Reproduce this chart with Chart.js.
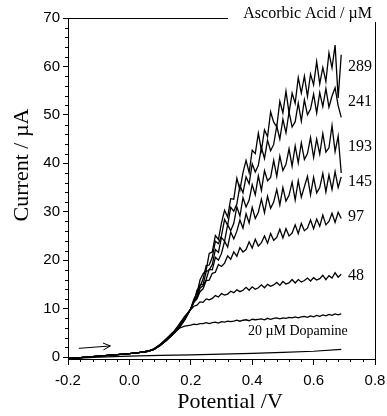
<!DOCTYPE html>
<html>
<head>
<meta charset="utf-8">
<script src="https://cdn.jsdelivr.net/npm/chart.js@4/dist/chart.umd.min.js"></script>
<style>
html, body { margin: 0; padding: 0; background: #fff; }
</style>
</head>
<body>
<canvas id="cvChart" width="387" height="416"></canvas>
<script>
/* potential grid (V) shared by the ascorbic acid / dopamine scans */
const potential = [-0.2, -0.16, -0.12, -0.08, -0.04, 0, 0.03, 0.06, 0.08, 0.1, 0.12, 0.14, 0.16, 0.18,
  0.20, 0.21, 0.22, 0.23, 0.24, 0.25, 0.26, 0.27, 0.28, 0.29,
  0.30, 0.31, 0.32, 0.33, 0.34, 0.35, 0.36, 0.37, 0.38, 0.39,
  0.40, 0.41, 0.42, 0.43, 0.44, 0.45, 0.46, 0.47, 0.48, 0.49,
  0.50, 0.51, 0.52, 0.53, 0.54, 0.55, 0.56, 0.57, 0.58, 0.59,
  0.60, 0.61, 0.62, 0.63, 0.64, 0.65, 0.66, 0.67, 0.68, 0.69]

/* current (uA) per ascorbic acid concentration */
const aa289 = [-0.3, -0.1, 0.1, 0.3, 0.5, 0.7, 0.9, 1.2, 1.6, 2.4, 3.4, 4.6, 5.8, 7.6,
  10.0, 12.0, 13.1, 15.9, 17.2, 17.9, 21.4, 21.7, 25.1, 24.3,
  27.7, 30.3, 28.9, 32.7, 32.6, 36.9, 34.5, 38.1, 40.6, 38.1,
  42.7, 42.0, 46.2, 42.7, 46.9, 45.5, 50.6, 48.5, 47.5, 52.8,
  50.4, 54.9, 50.4, 54.5, 52.4, 57.7, 54.5, 58.0, 53.8, 58.4,
  56.2, 61.0, 56.4, 59.8, 56.9, 62.8, 59.7, 64.4, 53.5, 62.4]
const aa241 = [-0.3, -0.1, 0.1, 0.3, 0.5, 0.7, 0.9, 1.2, 1.6, 2.4, 3.4, 4.6, 6.0, 7.8,
  10.0, 11.3, 13.8, 14.6, 16.1, 18.9, 19.0, 20.6, 23.9, 23.4,
  25.1, 28.4, 27.2, 30.9, 30.1, 31.6, 35.4, 33.9, 37.2, 35.8,
  39.9, 38.2, 39.6, 43.3, 41.0, 44.8, 42.6, 43.9, 47.7, 45.0,
  49.1, 46.3, 50.6, 47.5, 48.6, 52.4, 48.7, 53.1, 50.0, 51.2,
  54.3, 50.4, 54.6, 51.7, 55.4, 51.6, 53.9, 55.6, 51.9, 49.5]
const aa193 = [-0.3, -0.1, 0.1, 0.3, 0.5, 0.7, 0.9, 1.2, 1.6, 2.4, 3.4, 4.6, 6.0, 7.9,
  10.0, 11.7, 12.5, 14.9, 15.0, 17.6, 18.0, 19.1, 22.2, 21.6,
  24.7, 23.9, 27.3, 26.1, 27.6, 31.0, 29.1, 32.9, 31.0, 32.4,
  35.6, 33.5, 37.4, 34.4, 38.5, 36.4, 37.1, 40.6, 37.3, 41.5,
  38.5, 39.8, 43.0, 39.4, 43.6, 40.1, 44.2, 40.8, 42.0, 45.3,
  41.2, 45.0, 41.9, 46.1, 42.3, 43.2, 47.8, 42.4, 45.6, 38.0]
const aa145 = [-0.3, -0.1, 0.1, 0.3, 0.5, 0.7, 0.9, 1.2, 1.6, 2.4, 3.4, 4.6, 6.0, 7.8,
  10.0, 11.5, 12.2, 14.2, 14.7, 16.0, 18.1, 18.0, 20.6, 20.0,
  21.4, 23.9, 22.7, 25.8, 24.4, 26.0, 28.3, 26.6, 29.6, 27.7,
  30.9, 28.6, 29.9, 32.6, 29.8, 33.2, 30.7, 32.0, 34.6, 31.4,
  35.0, 32.2, 33.4, 36.1, 32.4, 36.4, 33.0, 35.2, 37.3, 33.5,
  37.1, 33.9, 35.0, 37.9, 34.1, 37.6, 34.6, 38.3, 35.0, 37.2]
const aa97 = [-0.3, -0.1, 0.1, 0.3, 0.5, 0.7, 0.9, 1.2, 1.6, 2.5, 3.5, 4.8, 6.3, 8.2,
  10.0, 11.3, 12.0, 13.5, 14.1, 15.8, 15.9, 17.3, 17.5, 19.1,
  18.7, 19.4, 20.9, 20.2, 21.7, 20.8, 22.6, 21.7, 22.2, 23.8,
  22.5, 24.3, 22.9, 23.6, 25.0, 23.5, 25.5, 24.1, 24.7, 26.4,
  24.6, 26.5, 25.0, 25.6, 27.3, 25.5, 27.6, 26.1, 26.6, 28.3,
  26.5, 28.5, 27.0, 29.3, 27.3, 28.0, 29.7, 27.8, 29.9, 28.6]
const aa48 = [-0.3, -0.1, 0.1, 0.3, 0.5, 0.7, 0.9, 1.2, 1.7, 2.6, 3.6, 4.9, 6.6, 8.4,
  9.8, 10.5, 10.7, 11.4, 11.3, 12.0, 11.8, 12.1, 12.7, 12.4,
  13.1, 12.8, 13.0, 13.6, 13.3, 13.9, 13.5, 13.8, 14.4, 13.8,
  14.5, 14.0, 14.3, 14.9, 14.3, 15.0, 14.6, 14.9, 15.4, 14.8,
  15.6, 15.1, 15.3, 16.0, 15.3, 16.0, 15.5, 15.8, 16.3, 15.7,
  16.4, 15.9, 16.2, 16.9, 16.0, 16.8, 16.3, 17.4, 16.5, 17.1]
const dopamine = [-0.3, -0.1, 0.1, 0.3, 0.5, 0.7, 0.9, 1.2, 1.7, 2.6, 3.8, 5.0, 5.9, 6.4,
  6.6, 6.8, 6.7, 6.9, 6.9, 7.1, 6.9, 7.1, 7.2, 7.0,
  7.3, 7.2, 7.4, 7.3, 7.4, 7.6, 7.4, 7.6, 7.7, 7.5,
  7.8, 7.7, 7.8, 7.9, 7.7, 8.0, 7.8, 8.0, 8.1, 7.9,
  8.1, 8.0, 8.2, 8.1, 8.3, 8.1, 8.3, 8.4, 8.2, 8.5,
  8.3, 8.6, 8.4, 8.7, 8.5, 8.8, 8.6, 8.9, 8.7, 8.9]

/* blank scan */
const blankPotential = [-0.2, -0.15, -0.1, -0.05, 0, 0.1, 0.2, 0.3, 0.4, 0.5, 0.6, 0.69]
const blankCurrent = [-0.35, -0.15, 0, 0.1, 0.2, 0.35, 0.45, 0.6, 0.75, 0.95, 1.2, 1.6]

const concLabels = ['289', '241', '193', '145', '97', '48']
const xTicks = [-0.2, 0.0, 0.2, 0.4, 0.6, 0.8]
const yTicks = [0, 10, 20, 30, 40, 50, 60, 70]
const arrowFrom = [-0.165, 1.8]
const arrowTo = [-0.062, 2.3]

const serif = 'Liberation Serif, Times New Roman, serif'
const sans = 'Liberation Sans, Arial, sans-serif'

const curves = [aa289, aa241, aa193, aa145, aa97, aa48, dopamine]

const toPoints = (xs, ys) => xs.map((x, i) => ({ x: x, y: ys[i] }))

const datasets = curves.map(c => ({
    data: toPoints(potential, c),
    borderColor: '#000',
    borderWidth: 1.3,
    pointRadius: 0,
    tension: 0
}))
datasets.push({
    data: toPoints(blankPotential, blankCurrent),
    borderColor: '#000',
    borderWidth: 1.2,
    pointRadius: 0,
    tension: 0
})

/* frame, minor ticks, text labels, arrow */
const decorations = {
    id: 'decorations',
    afterDraw(chart) {
        const ctx = chart.ctx
        const a = chart.chartArea
        const xs = chart.scales.x
        const ys = chart.scales.y
        ctx.save()
        ctx.strokeStyle = '#000'
        ctx.lineWidth = 1
        ctx.beginPath()
        ctx.moveTo(a.left, a.top + 0.5)
        ctx.lineTo(a.right + 0.5, a.top + 0.5)
        ctx.lineTo(a.right + 0.5, a.bottom)
        ctx.stroke()

        // minor ticks
        ctx.beginPath()
        for (let v = 2; v < 70; v += 2) {
            if (v % 10 === 0) continue
            const py = Math.round(ys.getPixelForValue(v)) + 0.5
            ctx.moveTo(a.left, py)
            ctx.lineTo(a.left - 3, py)
        }
        for (let k = -4; k < 20; k++) {
            if (k % 5 === 0) continue
            const px = Math.round(xs.getPixelForValue(k * 0.04)) + 0.5
            ctx.moveTo(px, a.bottom)
            ctx.lineTo(px, a.bottom + 3)
        }
        ctx.stroke()

        // legend title over the frame
        ctx.fillStyle = '#fff'
        ctx.fillRect(228, 0, 387 - 228, 22)
        ctx.fillStyle = '#000'
        ctx.font = '16px ' + serif
        ctx.textAlign = 'right'
        ctx.textBaseline = 'middle'
        ctx.fillText('Ascorbic Acid / \u00b5M', 372, 14)

        // concentration labels at end of each curve
        ctx.textAlign = 'left'
        concLabels.forEach((t, i) => {
            const tail = curves[i].slice(-4)
            const avg = tail.reduce((s, v) => s + v, 0) / tail.length
            ctx.fillText(t, xs.getPixelForValue(0.712), ys.getPixelForValue(avg))
        })
        ctx.font = '14px ' + serif
        ctx.fillText('20 \u00b5M Dopamine', xs.getPixelForValue(0.386), ys.getPixelForValue(5.4))

        // scan direction arrow
        const x1 = xs.getPixelForValue(arrowFrom[0]), y1 = ys.getPixelForValue(arrowFrom[1])
        const x2 = xs.getPixelForValue(arrowTo[0]), y2 = ys.getPixelForValue(arrowTo[1])
        const ang = Math.atan2(y2 - y1, x2 - x1)
        ctx.beginPath()
        ctx.moveTo(x1, y1)
        ctx.lineTo(x2, y2)
        ctx.moveTo(x2 - 8 * Math.cos(ang - 0.45), y2 - 8 * Math.sin(ang - 0.45))
        ctx.lineTo(x2, y2)
        ctx.lineTo(x2 - 8 * Math.cos(ang + 0.45), y2 - 8 * Math.sin(ang + 0.45))
        ctx.stroke()

        // axis titles
        ctx.font = '22px ' + serif
        ctx.textAlign = 'center'
        ctx.fillText('Potential /V', 230, 402)
        ctx.translate(22, 165)
        ctx.rotate(-Math.PI / 2)
        ctx.fillText('Current / \u00b5A', 0, 0)
        ctx.restore()
    }
}

new Chart('cvChart', {
    type: 'line',
    data: { datasets },
    options: {
        responsive: false,
        animation: false,
        layout: { padding: { top: 18, right: 0, left: 0, bottom: 0 } },
        plugins: { legend: { display: false }, tooltip: { enabled: false } },
        scales: {
            x: {
                type: 'linear',
                min: -0.2,
                max: 0.8,
                afterBuildTicks: s => { s.ticks = xTicks.map(v => ({ value: v })) },
                afterFit: s => { s.height = 57; s.paddingLeft = 0; s.paddingRight = 12 },
                ticks: { callback: v => v.toFixed(1), color: '#000', font: { family: sans, size: 15 }, padding: 7, maxRotation: 0 },
                grid: { drawOnChartArea: false, tickLength: 6, color: '#000' },
                border: { color: '#000' }
            },
            y: {
                min: -0.4,
                max: 70,
                afterBuildTicks: s => { s.ticks = yTicks.map(v => ({ value: v })) },
                afterFit: s => { s.width = 68 },
                ticks: { callback: v => v, color: '#000', font: { family: sans, size: 15 }, padding: 3 },
                grid: { drawOnChartArea: false, tickLength: 5, color: '#000' },
                border: { color: '#000' }
            }
        }
    },
    plugins: [decorations]
})
</script>
</body>
</html>
